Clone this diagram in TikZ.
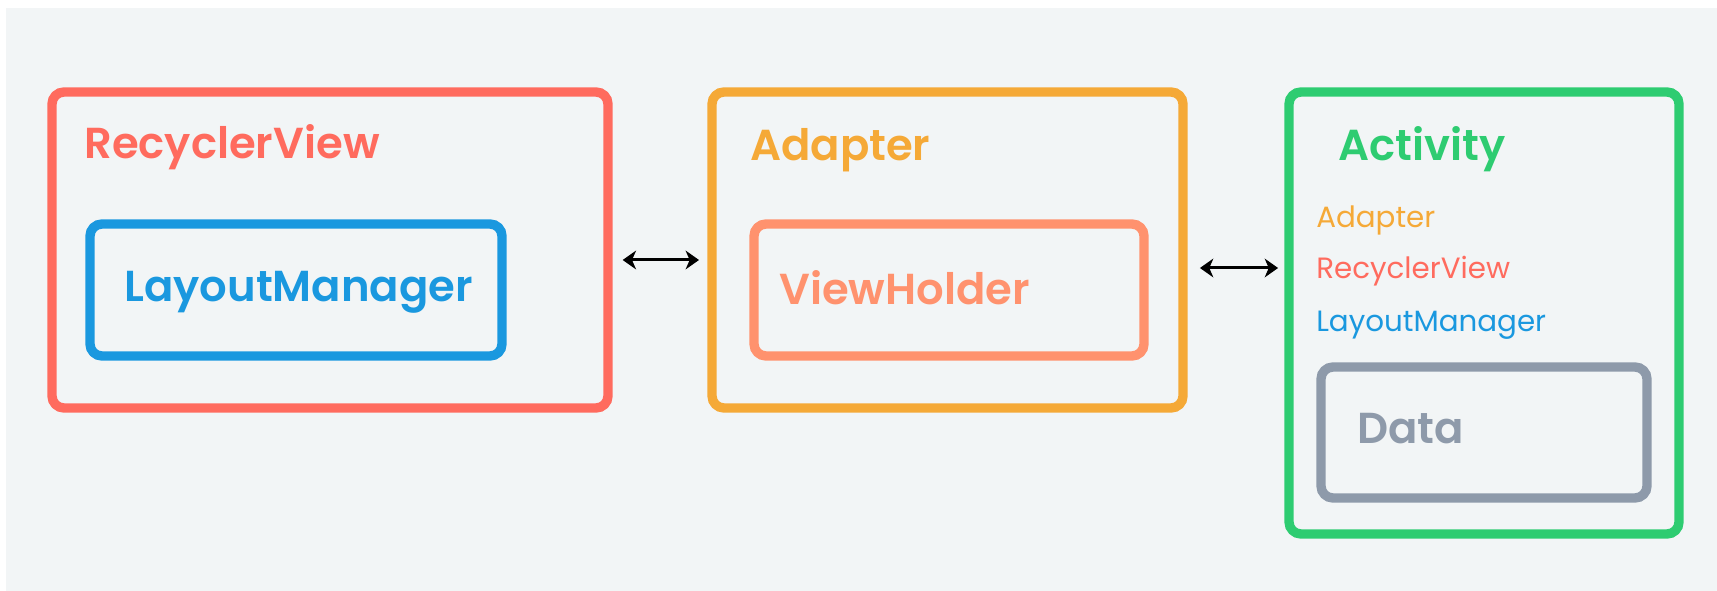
\documentclass[tikz,border=0pt]{standalone}
\usepackage{fontspec}
\setmainfont{Poppins}[BoldFont={Poppins SemiBold}]
\usetikzlibrary{arrows.meta}

\begin{document}
\begin{tikzpicture}[x=0.75pt,y=0.75pt,yscale=-1,xscale=1,
  box/.style={draw, line width=7pt, rounded corners=9pt, inner sep=0pt},
  title/.style={anchor=base west, inner sep=0pt, font=\bfseries\fontsize{32.5}{39}\selectfont},
  item/.style={anchor=base west, inner sep=0pt, font=\fontsize{22}{27}\selectfont},
  arr/.style={line width=2.25pt, {Stealth[length=10pt,width=14pt,inset=3pt]}-{Stealth[length=10pt,width=14pt,inset=3pt]}}]
\useasboundingbox (0,0) rectangle (1717,591);

%Background
\fill [color={rgb, 255:red, 242; green, 245; blue, 246 }] (6,8) rectangle (1717,591);

%Rounded Rect
\node [box, color={rgb, 255:red, 255; green, 107; blue, 94 }, minimum width=417pt, minimum height=237pt] (rv) at (330,250) {};
%Rounded Rect
\node [box, color={rgb, 255:red, 26; green, 152; blue, 223 }, minimum width=309pt, minimum height=99pt] (lm) at (296,290) {};
%Rounded Rect
\node [box, color={rgb, 255:red, 245; green, 169; blue, 55 }, minimum width=353.25pt, minimum height=237pt] (ad) at (947.5,250) {};
%Rounded Rect
\node [box, color={rgb, 255:red, 255; green, 146; blue, 110 }, minimum width=292.5pt, minimum height=99pt] (vh) at (949,290) {};
%Rounded Rect
\node [box, color={rgb, 255:red, 46; green, 204; blue, 113 }, minimum width=292.5pt, minimum height=331.5pt] (ac) at (1484,313) {};
%Rounded Rect
\node [box, color={rgb, 255:red, 142; green, 154; blue, 170 }, minimum width=244.5pt, minimum height=98.25pt] (da) at (1484,432.5) {};

%Straight Lines
\draw [arr, shorten <=7.5pt, shorten >=6.25pt] ([yshift=7.5pt]rv.east) -- ([yshift=7.5pt]ad.west) ;
%Straight Lines
\draw [arr, shorten <=9.2pt, shorten >=4.7pt] ([yshift=13.5pt]ad.east) -- ([yshift=-33.75pt]ac.west) ;

% Text Node
\draw (84,159) node (rvtitle) [title, color={rgb, 255:red, 255; green, 107; blue, 94 }] {RecyclerView};
% Text Node
\draw (124,302) node (lmtitle) [title, color={rgb, 255:red, 26; green, 152; blue, 223 }] {LayoutManager};
% Text Node
\draw (750,161) node (adtitle) [title, color={rgb, 255:red, 245; green, 169; blue, 55 }] {Adapter};
% Text Node
\draw (779,305) node (vhtitle) [title, color={rgb, 255:red, 255; green, 146; blue, 110 }] {ViewHolder};
% Text Node
\draw (1338,161) node (actitle) [title, color={rgb, 255:red, 46; green, 204; blue, 113 }] {Activity};
% Text Node
\draw (1316,228) node (acad) [item, color={rgb, 255:red, 245; green, 169; blue, 55 }] {Adapter};
% Text Node
\draw (1316,279) node (acrv) [item, color={rgb, 255:red, 255; green, 107; blue, 94 }] {RecyclerView};
% Text Node
\draw (1316,332) node (aclm) [item, color={rgb, 255:red, 26; green, 152; blue, 223 }] {LayoutManager};
% Text Node
\draw (1357,443) node (datitle) [title, color={rgb, 255:red, 142; green, 154; blue, 170 }] {Data};

\end{tikzpicture}
\end{document}
